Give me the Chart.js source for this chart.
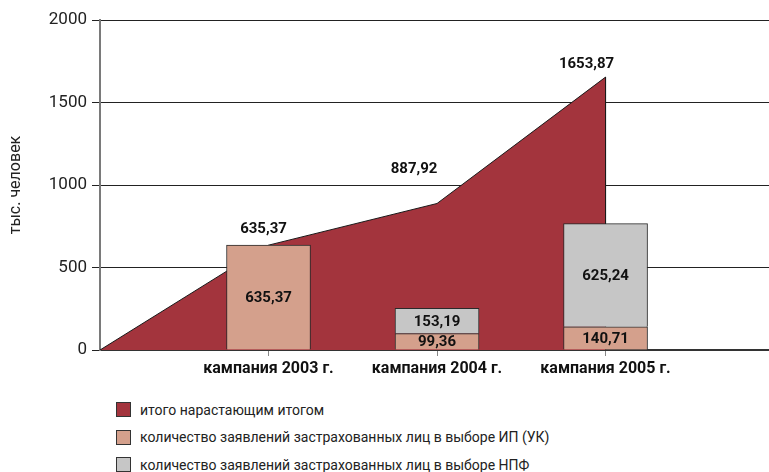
<!DOCTYPE html>
<html>
<head>
<meta charset="utf-8">
<script src="https://cdn.jsdelivr.net/npm/chart.js@4.4.1/dist/chart.umd.min.js"></script>
<style>
  body { margin: 0; background: #fff; }
  #wrap { position: relative; width: 769px; height: 472px; }
  #legend { position: absolute; left: 116px; top: 396px; font-family: Roboto, 'Liberation Sans', sans-serif; font-size: 14px; color: #222; }
  .item { height: 27.5px; display: flex; align-items: center; }
  .box { width: 13px; height: 13px; border: 1px solid #333; margin-right: 9px; }
</style>
</head>
<body>
<div id="wrap">
  <canvas id="myChart" width="769" height="380"></canvas>
  <div id="legend"></div>
</div>
<script>
let campaigns = ['кампания 2003 г.', 'кампания 2004 г.', 'кампания 2005 г.'];
let totalCumulative = [635.37, 887.92, 1653.87];
let ipValues = [635.37, 99.36, 140.71];
let npfValues = [null, 153.19, 625.24];
let yTicks = [0, 500, 1000, 1500, 2000];
let seriesNames = [
  'итого нарастающим итогом',
  'количество заявлений застрахованных лиц в выборе ИП (УК)',
  'количество заявлений застрахованных лиц в выборе НПФ'
];
let colorHex = ['#A3343D', '#D4A08C', '#C6C6C6'];

let fontFamily = "Roboto, 'Liberation Sans', sans-serif";
Chart.defaults.font.family = fontFamily;
Chart.defaults.color = '#222';

// area: starts at zero, goes through each campaign total, drops back to zero at the last one
let areaPoints = [{x: 0, y: 0}];
totalCumulative.forEach((v, i) => areaPoints.push({x: i + 1, y: v}));
areaPoints.push({x: totalCumulative.length, y: 0});

let fmt = (v) => v.toFixed(2).replace('.', ',');

// offsets of the total labels relative to their point
let totalLabelShift = [[-5, -16], [-23, -34], [-19, -13]];

let valueLabels = {
  id: 'valueLabels',
  afterDatasetsDraw(chart) {
    let ctx = chart.ctx;
    ctx.save();
    ctx.fillStyle = '#111';
    ctx.textAlign = 'center';
    ctx.textBaseline = 'middle';
    ctx.font = 'bold 15px ' + fontFamily;
    chart.data.datasets.forEach((ds, di) => {
      let meta = chart.getDatasetMeta(di);
      if (ds.type === 'line') {
        totalCumulative.forEach((v, i) => {
          let p = meta.data[i + 1];
          ctx.fillText(fmt(v), p.x + totalLabelShift[i][0], p.y + totalLabelShift[i][1]);
        });
      } else {
        meta.data.forEach((el, i) => {
          let v = ds.data[i].y;
          if (v == null) return;
          ctx.fillText(fmt(v), el.x, (el.y + el.base) / 2 + 1);
        });
      }
    });
    ctx.restore();
  }
};

let ctx = document.getElementById('myChart').getContext('2d');
let myChart = new Chart(ctx, {
  type: 'bar',
  data: {
    datasets: [{
      type: 'line',
      label: seriesNames[0],
      data: areaPoints,
      stack: 'area',
      order: 1,
      fill: 'origin',
      backgroundColor: colorHex[0],
      borderColor: '#1a1a1a',
      borderWidth: 1,
      pointRadius: 0,
      tension: 0
    }, {
      label: seriesNames[1],
      data: ipValues.map((v, i) => ({x: i + 1, y: v})),
      stack: 'bars',
      order: 0,
      backgroundColor: colorHex[1],
      borderColor: '#2a2a2a',
      borderWidth: 1,
      barThickness: 84
    }, {
      label: seriesNames[2],
      data: npfValues.map((v, i) => ({x: i + 1, y: v})),
      stack: 'bars',
      order: 0,
      backgroundColor: colorHex[2],
      borderColor: '#2a2a2a',
      borderWidth: 1,
      barThickness: 84
    }]
  },
  options: {
    responsive: false,
    animation: false,
    layout: { padding: { top: 20, right: 0, bottom: 0, left: 0 } },
    plugins: { legend: { display: false }, tooltip: { enabled: false } },
    scales: {
      x: {
        type: 'linear',
        min: 0,
        max: 3.97,
        offset: false,
        stacked: true,
        afterBuildTicks: (scale) => { scale.ticks = campaigns.map((c, i) => ({value: i + 1})); },
        afterFit: (scale) => { scale.height = 30; },
        ticks: {
          callback: (v) => campaigns[v - 1],
          font: { size: 16, weight: 'bold' },
          color: '#111',
          padding: 3,
          maxRotation: 0
        },
        grid: { drawOnChartArea: false, drawTicks: true, tickLength: 6, color: '#888', offset: false },
        border: { color: '#333', width: 2 }
      },
      y: {
        min: 0,
        max: 2000,
        stacked: true,
        afterBuildTicks: (scale) => { scale.ticks = yTicks.map(v => ({value: v})); },
        afterFit: (scale) => { scale.width = 100; },
        ticks: { font: { size: 17 }, color: '#222', padding: 5, callback: (v) => String(v) },
        grid: { color: '#222', lineWidth: 1, tickLength: 8 },
        border: { color: '#7a7a7a', width: 2 },
        title: {
          display: true,
          text: 'тыс. человек',
          font: { size: 16 },
          color: '#222',
          padding: { top: 6, bottom: 0 }
        }
      }
    }
  },
  plugins: [valueLabels]
});

// legend as a vertical list under the chart
let legendDiv = document.getElementById('legend');
myChart.data.datasets.forEach((ds, i) => {
  let row = document.createElement('div');
  row.className = 'item';
  let box = document.createElement('span');
  box.className = 'box';
  box.style.background = colorHex[i];
  let txt = document.createElement('span');
  txt.textContent = ds.label;
  row.appendChild(box);
  row.appendChild(txt);
  legendDiv.appendChild(row);
});
</script>
</body>
</html>
